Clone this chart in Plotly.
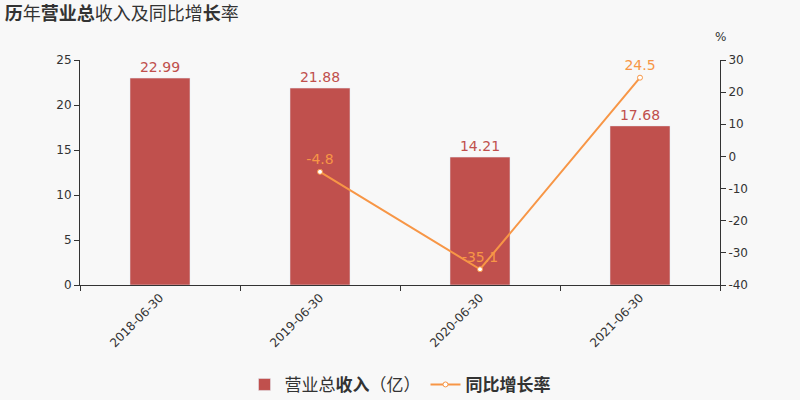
import plotly.graph_objects as go

categories = ["2018-06-30", "2019-06-30", "2020-06-30", "2021-06-30"]
revenue = [22.99, 21.88, 14.21, 17.68]
growth_x = ["2019-06-30", "2020-06-30", "2021-06-30"]
growth = [-4.8, -35.1, 24.5]
left_ticks = [0, 5, 10, 15, 20, 25]
right_ticks = [-40, -30, -20, -10, 0, 10, 20, 30]

BAR = "#c0504d"
LINE = "#f79646"
FONT = "DejaVu Sans, Noto Sans CJK SC, sans-serif"

fig = go.Figure()
fig.add_trace(go.Bar(
    x=categories, y=revenue, name="营业总<b>收入</b>（亿）",
    marker=dict(color=BAR), width=0.375,
    text=[f"{v:.2f}" for v in revenue], textposition="outside",
    textfont=dict(color=BAR, size=14), cliponaxis=False,
))
fig.add_trace(go.Scatter(
    x=growth_x, y=growth, name="<b>同比增长率</b>", yaxis="y2",
    mode="lines+markers+text",
    line=dict(color=LINE, width=2),
    marker=dict(symbol="circle", size=5, color="white", line=dict(color=LINE, width=1)),
    text=[str(v) for v in growth], textposition="top center",
    textfont=dict(color=LINE, size=14), cliponaxis=False,
))

fig.update_layout(
    width=800, height=400,
    paper_bgcolor="#f8f8f8", plot_bgcolor="#f8f8f8",
    font=dict(family=FONT, color="#333333", size=12),
    margin=dict(l=80, r=80, t=60, b=115, autoexpand=False),
    title=dict(text="<b>历</b>年<b>营业总</b>收入及同比增<b>长</b>率",
               x=0.006, xanchor="left", y=0.965, yanchor="middle",
               font=dict(size=18, color="#333333", family="Noto Sans CJK SC, sans-serif")),
    xaxis=dict(type="category", range=[-0.5, 3.5], tickson="boundaries",
               showline=True, linecolor="#333333", linewidth=1,
               ticks="outside", ticklen=5, tickcolor="#333333",
               tickangle=-45, tickfont=dict(size=12, color="#333333"),
               showgrid=False, zeroline=False),
    yaxis=dict(range=[0, 25], tickvals=left_ticks, ticktext=[str(v) for v in left_ticks],
               showline=True, linecolor="#333333",
               ticks="outside", ticklen=5, tickcolor="#333333",
               showgrid=False, zeroline=False, tickfont=dict(size=12)),
    yaxis2=dict(range=[-40, 30], tickvals=right_ticks, ticktext=[str(v) for v in right_ticks],
                overlaying="y", side="right",
                showline=True, linecolor="#333333",
                ticks="outside", ticklen=5, tickcolor="#333333",
                showgrid=False, zeroline=False, tickfont=dict(size=12)),
    legend=dict(orientation="h", x=0.5, xanchor="center", y=-0.444, yanchor="middle",
                font=dict(size=17, color="#333333", family="Noto Sans CJK SC, sans-serif"),
                bgcolor="rgba(0,0,0,0)"),
    annotations=[dict(text="%", x=1.0, xref="paper", xanchor="center",
                      y=1.0, yref="paper", yanchor="bottom", yshift=14,
                      showarrow=False, font=dict(size=12, color="#333333"))],
)

fig.write_html("out.html", config={"displayModeBar": False},
               post_script="document.body.style.margin='0';")
